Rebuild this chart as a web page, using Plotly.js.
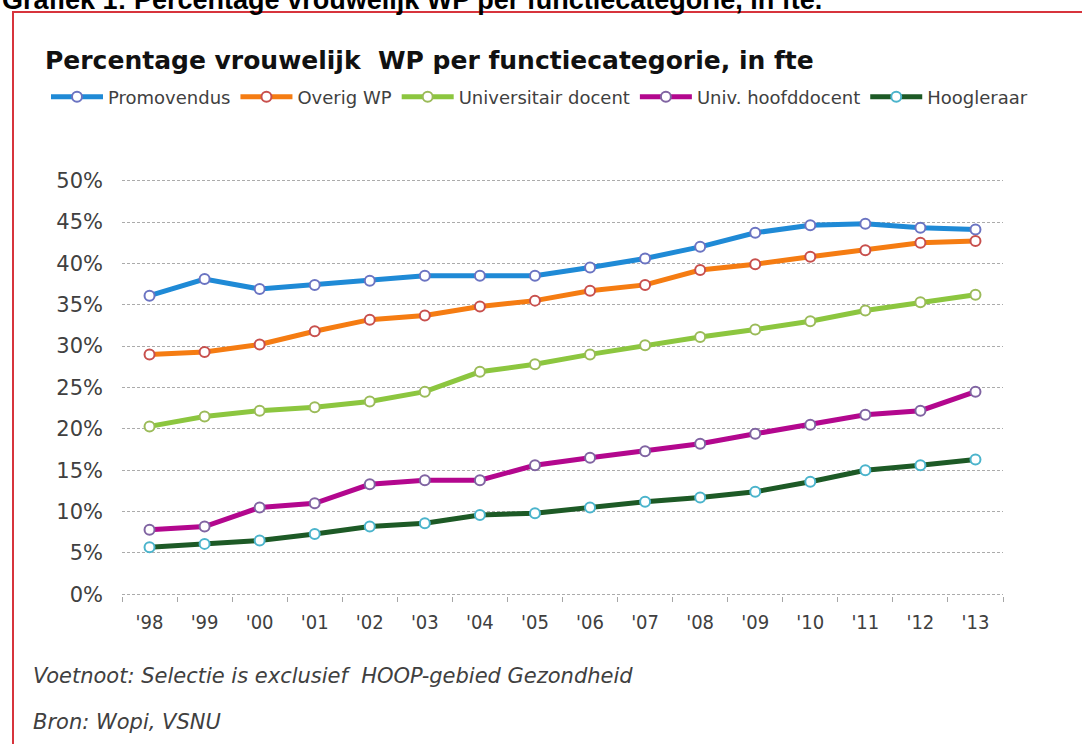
<!DOCTYPE html>
<html>
<head>
<meta charset="utf-8">
<script src="https://cdn.plot.ly/plotly-3.0.1.min.js"></script>
<style>
  html, body { margin: 0; padding: 0; background: #fff; }
  #chart { width: 1082px; height: 744px; }
</style>
</head>
<body>
<div id="chart"></div>
<script>
// jaren (as-categorieen)
const years = ["'98", "'99", "'00", "'01", "'02", "'03", "'04", "'05", "'06", "'07", "'08", "'09", "'10", "'11", "'12", "'13"];

// percentage vrouwelijk WP, in fte
const promovendus = [36.1, 38.1, 36.9, 37.4, 37.9, 38.5, 38.5, 38.5, 39.5, 40.6, 42.0, 43.7, 44.6, 44.8, 44.3, 44.1];
const overigWP    = [29.0, 29.3, 30.2, 31.8, 33.2, 33.7, 34.8, 35.5, 36.7, 37.4, 39.2, 39.9, 40.8, 41.6, 42.5, 42.7];
const univDocent  = [20.3, 21.5, 22.2, 22.6, 23.3, 24.5, 26.9, 27.8, 29.0, 30.1, 31.1, 32.0, 33.0, 34.3, 35.3, 36.2];
const hoofddocent = [7.8, 8.2, 10.5, 11.0, 13.3, 13.8, 13.8, 15.6, 16.5, 17.3, 18.2, 19.4, 20.5, 21.7, 22.2, 24.5];
const hoogleraar  = [5.7, 6.1, 6.5, 7.3, 8.2, 8.6, 9.6, 9.8, 10.5, 11.2, 11.7, 12.4, 13.6, 15.0, 15.6, 16.3];

const seriesNames = ['Promovendus', 'Overig WP', 'Universitair docent', 'Univ. hoofddocent', 'Hoogleraar'];
const seriesData = [promovendus, overigWP, univDocent, hoofddocent, hoogleraar];
const lineColors = ['#1f8ad6', '#f57c12', '#8cc63f', '#b3078e', '#1d5a26'];
const markerEdge = ['#6b74c2', '#c8504d', '#9bbb59', '#8064a2', '#4bb4cc'];

const traces = seriesData.map((vals, i) => ({
  x: years,
  y: vals,
  type: 'scatter',
  mode: 'lines+markers',
  name: seriesNames[i],
  line: { color: lineColors[i], width: 5 },
  marker: {
    symbol: 'circle',
    size: 10,
    color: '#ffffff',
    line: { color: markerEdge[i], width: 2 }
  },
  hoverinfo: 'skip'
}));

const textColor = '#404040';

// plot area: 122..1003 px across, 179..596 px down (range -0.2..50.2)
const px = x => (x - 122) / 881;
const py = y => (596 - y) / 417;

const layout = {
  width: 1082,
  height: 744,
  paper_bgcolor: '#ffffff',
  plot_bgcolor: '#ffffff',
  margin: { l: 122, r: 79, t: 179, b: 148 },
  showlegend: true,
  hovermode: false,
  title: {
    text: '<b>Percentage vrouwelijk  WP per functiecategorie, in fte</b>',
    font: { family: 'DejaVu Sans, Verdana, sans-serif', size: 25, color: '#111111' },
    xref: 'container', yref: 'container',
    x: 45 / 1082, xanchor: 'left',
    y: 1 - 60 / 744, yanchor: 'middle'
  },
  legend: {
    orientation: 'h',
    x: px(46), xanchor: 'left',
    y: py(97), yanchor: 'middle',
    font: { family: 'DejaVu Sans, Segoe UI, sans-serif', size: 18, color: textColor },
    itemwidth: 52,
    traceorder: 'normal',
    bgcolor: 'rgba(0,0,0,0)'
  },
  xaxis: {
    type: 'category',
    range: [-0.5, 15.5],
    showgrid: false,
    zeroline: false,
    showline: false,
    ticks: 'outside',
    tickson: 'boundaries',
    ticklen: 5,
    tickwidth: 1,
    tickcolor: '#a6a6a6',
    ticklabelstandoff: 12,
    tickfont: { family: 'DejaVu Sans Condensed, Liberation Sans Narrow, sans-serif', size: 20, color: textColor },
    fixedrange: true
  },
  yaxis: {
    range: [-0.2, 50.2],
    dtick: 5,
    tick0: 0,
    ticksuffix: '%',
    showgrid: true,
    gridcolor: '#ababab',
    gridwidth: 1,
    griddash: '3px,2px',
    zeroline: false,
    showline: false,
    ticks: '',
    ticklabelstandoff: 18,
    tickfont: { family: 'DejaVu Sans, Verdana, sans-serif', size: 21, color: textColor },
    fixedrange: true
  },
  annotations: [
    {
      text: '<b>Grafiek 1: Percentage vrouwelijk WP per functiecategorie, in fte.</b>',
      xref: 'paper', yref: 'paper',
      x: px(0), xanchor: 'left',
      y: py(0), yanchor: 'middle',
      showarrow: false,
      font: { family: 'Liberation Sans, Arial, sans-serif', size: 27, color: '#000000' }
    },
    {
      text: '<i>Voetnoot: Selectie is exclusief  HOOP-gebied Gezondheid</i>',
      xref: 'paper', yref: 'paper',
      x: px(31), xanchor: 'left',
      y: py(676), yanchor: 'middle',
      showarrow: false,
      font: { family: 'DejaVu Sans, Verdana, sans-serif', size: 21, color: textColor }
    },
    {
      text: '<i>Bron: Wopi, VSNU</i>',
      xref: 'paper', yref: 'paper',
      x: px(31), xanchor: 'left',
      y: py(722), yanchor: 'middle',
      showarrow: false,
      font: { family: 'DejaVu Sans, Verdana, sans-serif', size: 21, color: textColor }
    }
  ],
  shapes: [
    {
      // rode kader rond de grafiek
      type: 'rect',
      xref: 'paper', yref: 'paper',
      x0: px(13), x1: px(1095),
      y0: py(760), y1: py(12),
      line: { color: '#d7343c', width: 2 },
      fillcolor: 'rgba(0,0,0,0)',
      layer: 'below'
    }
  ]
};

Plotly.newPlot('chart', traces, layout, { displayModeBar: false, staticPlot: true });
</script>
</body>
</html>
